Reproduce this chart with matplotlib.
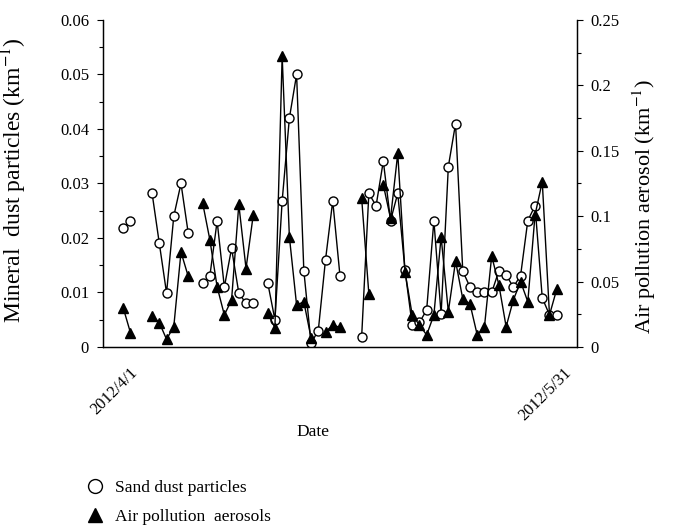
import numpy as np
import matplotlib
matplotlib.use('Agg')
from matplotlib import pyplot as plt
from matplotlib.lines import Line2D
from matplotlib.ticker import MultipleLocator
from matplotlib.transforms import ScaledTranslation

nan = np.nan

# days since 2012/4/1 (61 days up to 2012/5/31)
days = np.arange(61)
tick_days = [0, 60]
tick_labels = ['2012/4/1', '2012/5/31']

# mineral (sand) dust particles, km^-1  (left axis)
dust = [0.0218, 0.0231, nan, nan, 0.0282, 0.0190, 0.0099, 0.0240, 0.0300, 0.0209,
        nan, 0.0118, 0.0131, 0.0231, 0.0110, 0.0181, 0.0099, 0.0080, 0.0080, nan,
        0.0118, 0.0050, 0.0268, 0.0420, 0.0500, 0.0140, 0.0007, 0.0030, 0.0160, 0.0268,
        0.0131, nan, nan, 0.0018, 0.0282, 0.0259, 0.0341, 0.0232, 0.0282, 0.0141,
        0.0040, 0.0045, 0.0068, 0.0232, 0.0060, 0.0331, 0.0410, 0.0139, 0.0110, 0.0100,
        0.0100, 0.0100, 0.0140, 0.0132, 0.0110, 0.0131, 0.0232, 0.0259, 0.0090, 0.0059,
        0.0059]

# air pollution aerosols, km^-1  (right axis)
aerosol = [0.030, 0.011, nan, nan, 0.024, 0.0186, 0.0059, 0.0155, 0.0726, 0.054,
           nan, 0.110, 0.0818, 0.046, 0.0245, 0.036, 0.109, 0.060, 0.101, nan,
           0.0258, 0.0148, 0.2225, 0.0843, 0.032, 0.0346, 0.007, nan, 0.0115, 0.0168,
           0.015, nan, nan, 0.114, 0.0405, nan, 0.124, 0.0984, 0.148, 0.0576,
           0.0245, 0.0168, 0.0092, 0.0245, 0.0843, 0.027, 0.0657, 0.0367, 0.0329, 0.0092,
           0.0155, 0.0696, 0.0474, 0.0155, 0.036, 0.050, 0.0346, 0.101, 0.1264, 0.0245,
           0.0441]

left_ticks = [0, 0.01, 0.02, 0.03, 0.04, 0.05, 0.06]
left_labels = ['0', '0.01', '0.02', '0.03', '0.04', '0.05', '0.06']
right_ticks = [0, 0.05, 0.1, 0.15, 0.2, 0.25]
right_labels = ['0', '0.05', '0.1', '0.15', '0.2', '0.25']

plt.rcParams['font.family'] = ['Liberation Serif', 'DejaVu Serif']
plt.rcParams['mathtext.fontset'] = 'stix'

fig = plt.figure(figsize=(6.81, 5.26), dpi=100)
ax = fig.add_axes([0.1512, 0.3403, 0.696, 0.6217])
ax2 = ax.twinx()

ax.plot(days, dust, color='black', lw=1, marker='o', ms=6.5,
        mfc='white', mec='black', mew=1)
ax2.plot(days, aerosol, color='black', lw=1, marker='^', ms=7.5,
         mfc='black', mec='black')

ax.set_xlim(-2.8, 62.8)
ax.set_ylim(0, 0.06)
ax2.set_ylim(0, 0.25)

for a in (ax, ax2):
    a.spines['top'].set_visible(False)
    for s in a.spines.values():
        s.set_linewidth(0.9)

ax.set_yticks(left_ticks, left_labels)
ax.yaxis.set_minor_locator(MultipleLocator(0.005))
ax2.set_yticks(right_ticks, right_labels)
ax2.yaxis.set_minor_locator(MultipleLocator(0.025))
for a in (ax, ax2):
    a.tick_params(axis='y', which='major', length=4, width=0.8, labelsize=12, pad=6)
    a.tick_params(axis='y', which='minor', length=3, width=0.8)

ax.set_xticks(tick_days, tick_labels, rotation=45, ha='right', va='center',
              rotation_mode='anchor', fontsize=12)
ax.tick_params(axis='x', length=0, pad=17)
shift = ScaledTranslation(12 / 100, 0, fig.dpi_scale_trans)
for lab in ax.get_xticklabels():
    lab.set_transform(lab.get_transform() + shift)

ax.set_ylabel('Mineral  dust particles (km$^{-1}$)', fontsize=17)
ax.yaxis.set_label_coords(-0.156, 0.51)
ax2.set_ylabel('Air pollution aerosol (km$^{-1}$)', fontsize=16)
ax2.yaxis.set_label_coords(1.114, 0.43)

fig.text(313 / 681, 1 - 432 / 526, 'Date', ha='center', va='center', fontsize=12.5)

handles = [Line2D([], [], ls='none', marker='o', ms=10, mfc='white', mec='black', mew=1),
           Line2D([], [], ls='none', marker='^', ms=10, mfc='black', mec='black')]
fig.legend(handles, ['Sand dust particles', 'Air pollution  aerosols'],
           loc='upper left', bbox_to_anchor=(85 / 681, 1 - 480 / 526),
           frameon=False, fontsize=12.5, handletextpad=0.5, labelspacing=0.75,
           borderaxespad=0, borderpad=0, handlelength=1.2)

fig.savefig('out.png', dpi=100)
